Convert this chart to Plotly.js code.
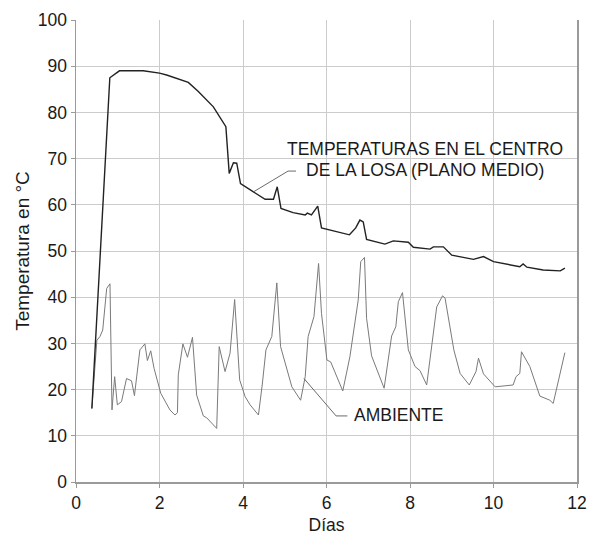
<!DOCTYPE html>
<html>
<head>
<meta charset="utf-8">
<script src="https://cdn.plot.ly/plotly-3.0.1.min.js"></script>
<style>html,body{margin:0;padding:0;background:#fff;}#chart{width:593px;height:538px;}</style>
</head>
<body>
<div id="chart"></div>
<script>
// Slab mid-plane temperature (black curve)
var slabDays = [0.38, 0.81, 1.04, 1.61, 2.00, 2.17, 2.69, 2.93, 3.29, 3.59,
                3.67, 3.77, 3.85, 3.94, 4.25, 4.53, 4.73, 4.82, 4.91, 5.20,
                5.49, 5.54, 5.64, 5.79, 5.88, 6.20, 6.55, 6.70, 6.80, 6.88,
                6.96, 7.40, 7.60, 7.96, 8.08, 8.48, 8.56, 8.80, 9.00, 9.52,
                9.76, 10.00, 10.63, 10.71, 10.80, 11.19, 11.60, 11.71];
var slabTemp = [15.9, 87.5, 89.0, 89.0, 88.5, 88.1, 86.5, 84.5, 81.2, 76.9,
                66.8, 69.1, 69.0, 64.6, 62.8, 61.2, 61.2, 63.9, 59.2, 58.3,
                57.8, 58.2, 57.8, 59.7, 55.0, 54.3, 53.5, 55.0, 56.7, 56.3,
                52.5, 51.5, 52.2, 51.9, 50.8, 50.4, 50.9, 50.9, 49.1, 48.2,
                48.8, 47.7, 46.6, 47.2, 46.5, 45.9, 45.7, 46.3];

// Ambient temperature (gray curve)
var ambDays = [0.38, 0.50, 0.575, 0.64, 0.735, 0.814, 0.862, 0.926, 0.99, 1.09,
               1.21, 1.33, 1.40, 1.53, 1.65, 1.71, 1.79, 1.87, 2.03, 2.25,
               2.37, 2.43, 2.45, 2.56, 2.67, 2.79, 2.89, 3.05, 3.13, 3.37,
               3.43, 3.57, 3.69, 3.80, 3.92, 4.05, 4.17, 4.37, 4.46, 4.55,
               4.69, 4.81, 4.90, 5.17, 5.38, 5.49, 5.56, 5.70, 5.81, 5.88,
               6.01, 6.10, 6.39, 6.56, 6.76, 6.82, 6.91, 6.96, 7.08, 7.38,
               7.56, 7.66, 7.72, 7.82, 7.96, 8.12, 8.24, 8.40, 8.64, 8.78,
               8.84, 9.05, 9.20, 9.42, 9.58, 9.64, 9.76, 10.04, 10.47, 10.54,
               10.63, 10.67, 10.87, 11.11, 11.35, 11.43, 11.71];
var ambTemp = [15.9, 30.7, 31.5, 32.9, 41.9, 42.9, 15.6, 22.8, 16.7, 17.4,
               22.4, 21.9, 18.7, 28.6, 29.9, 26.3, 28.4, 24.6, 19.2, 15.6,
               14.5, 15.0, 23.2, 29.9, 27.0, 31.3, 18.8, 14.3, 13.9, 11.6,
               29.3, 23.9, 27.9, 39.5, 22.1, 18.5, 16.7, 14.5, 21.0, 28.6,
               31.5, 43.1, 29.3, 20.6, 17.7, 22.8, 31.5, 35.8, 47.3, 36.5,
               26.4, 26.0, 19.7, 27.1, 39.4, 47.7, 48.6, 35.4, 27.3, 20.3,
               31.6, 33.6, 39.0, 41.0, 28.6, 25.0, 24.1, 21.0, 37.9, 40.3,
               39.8, 28.6, 23.5, 21.0, 23.9, 26.8, 23.4, 20.6, 21.0, 22.8,
               23.5, 28.2, 25.0, 18.6, 17.7, 17.0, 28.0];

var xTicks = [0, 2, 4, 6, 8, 10, 12];
var yTicks = [0, 10, 20, 30, 40, 50, 60, 70, 80, 90, 100];

var slabLabel1 = 'TEMPERATURAS EN EL CENTRO';
var slabLabel2 = 'DE LA LOSA (PLANO MEDIO)';
var ambLabel = 'AMBIENTE';

var FONT = 'Liberation Sans, Arial, Helvetica, sans-serif';
var FS = 17.5;
var TXT = '#1a1a1a';

var traces = [
  {x: ambDays, y: ambTemp, type: 'scatter', mode: 'lines',
   line: {color: '#7a7a7a', width: 1}, hoverinfo: 'skip', showlegend: false},
  {x: slabDays, y: slabTemp, type: 'scatter', mode: 'lines',
   line: {color: '#222222', width: 1.4}, hoverinfo: 'skip', showlegend: false}
];

var layout = {
  width: 593, height: 538,
  margin: {l: 76, r: 16, t: 20, b: 56},
  paper_bgcolor: '#ffffff', plot_bgcolor: '#ffffff',
  font: {family: FONT, size: FS, color: TXT},
  showlegend: false,
  xaxis: {
    range: [0, 12], tickvals: xTicks, ticktext: xTicks.map(String),
    showgrid: true, gridcolor: '#cccccc', gridwidth: 1,
    zeroline: false, showline: true, linecolor: '#9a9a9a', linewidth: 1.5,
    ticks: 'outside', ticklen: 4, tickcolor: '#9a9a9a',
    tickfont: {family: FONT, size: FS, color: TXT},
    title: {text: 'Días', font: {family: FONT, size: FS, color: TXT}, standoff: 7}
  },
  yaxis: {
    range: [0, 100], tickvals: yTicks, ticktext: yTicks.map(String),
    showgrid: true, gridcolor: '#cccccc', gridwidth: 1,
    zeroline: false, showline: true, linecolor: '#9a9a9a', linewidth: 1.5, mirror: true,
    ticks: 'outside', ticklen: 4, tickcolor: '#9a9a9a',
    tickfont: {family: FONT, size: FS, color: TXT},
    title: {text: 'Temperatura en °C', font: {family: FONT, size: 19, color: TXT}, standoff: 3}
  },
  annotations: [
    {x: 8.37, y: 72.0, xref: 'x', yref: 'y', text: slabLabel1, showarrow: false,
     xanchor: 'center', yanchor: 'middle', align: 'center',
     font: {family: FONT, size: FS, color: TXT}},
    {x: 8.37, y: 67.5, xref: 'x', yref: 'y', text: slabLabel2, showarrow: false,
     xanchor: 'center', yanchor: 'middle', align: 'center',
     font: {family: FONT, size: FS, color: TXT}},
    {x: 6.61, y: 14.4, xref: 'x', yref: 'y', text: ambLabel, showarrow: false,
     xanchor: 'left', yanchor: 'middle', align: 'left',
     font: {family: FONT, size: FS, color: TXT}}
  ],
  shapes: [
    {type: 'path', xref: 'x', yref: 'y', path: 'M 5.27 67.3 L 5.08 67.3 L 4.25 62.8',
     line: {color: '#6a6a6a', width: 1}},
    {type: 'path', xref: 'x', yref: 'y', path: 'M 5.46 22.4 L 6.23 14.3 L 6.50 14.3',
     line: {color: '#6a6a6a', width: 1}}
  ]
};

Plotly.newPlot('chart', traces, layout, {staticPlot: true, displayModeBar: false});
</script>
</body>
</html>
